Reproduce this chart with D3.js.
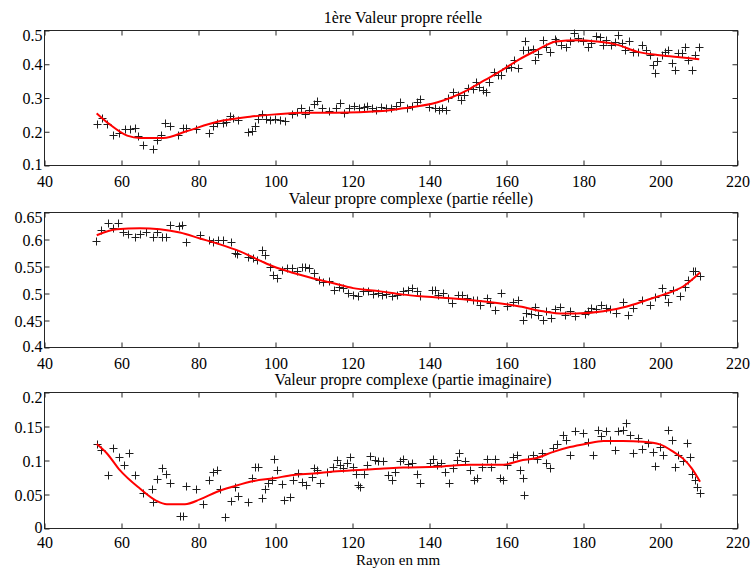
<!DOCTYPE html>
<html><head><meta charset="utf-8">
<script src="https://cdn.jsdelivr.net/npm/d3@7/dist/d3.min.js"></script>
<style>
html,body{margin:0;padding:0;background:#fff;}
</style></head>
<body>
<svg id="chart" width="752" height="568"></svg>
<script>
// ---------- DATA ----------
const xTicks = [40, 60, 80, 100, 120, 140, 160, 180, 200, 220];
const yTicks1 = [0.1, 0.2, 0.3, 0.4, 0.5];
const yTicks2 = [0.4, 0.45, 0.5, 0.55, 0.6, 0.65];
const yTicks3 = [0, 0.05, 0.1, 0.15, 0.2];
const titles = ["1ère Valeur propre réelle", "Valeur propre complexe (partie réelle)", "Valeur propre complexe (partie imaginaire)"];
const xLabel = "Rayon en mm";

// Panel 1 : mesures
const rayon1 = [53.7,55.0,56.3,58.0,59.5,61.0,62.3,63.6,64.3,65.6,68.2,69.4,70.5,71.4,72.7,74.8,76.0,77.0,79.6,82.9,83.9,85.0,86.4,87.4,88.3,89.2,90.5,93.1,94.0,94.8,95.7,96.6,97.7,98.6,99.9,101.2,102.5,104.4,105.6,106.7,107.8,108.9,110.2,111.0,112.2,114.1,115.8,116.8,118.0,119.3,120.5,121.8,123.0,124.0,125.2,126.3,127.5,128.8,130.0,131.3,132.5,134.2,135.5,136.8,137.7,139.9,141.6,142.6,143.5,144.3,144.9,146.2,147.5,148.3,149.2,150.1,151.4,152.2,153.1,154.0,154.9,155.7,156.9,157.9,158.8,160.1,161.4,162.2,163.1,164.5,164.9,165.8,167.1,167.5,168.4,169.5,170.5,171.4,172.7,173.1,174.4,175.7,176.6,177.6,178.8,180.1,181.4,182.2,183.5,184.4,185.3,186.1,187.4,188.3,189.2,190.0,190.9,192.0,193.1,194.4,195.3,196.3,197.4,198.3,198.7,199.3,200.4,201.3,202.2,203.0,203.9,204.8,205.7,206.5,207.4,208.3,209.1,210.2];
const valeur1 = [0.221,0.238,0.221,0.189,0.195,0.207,0.207,0.210,0.185,0.159,0.147,0.174,0.190,0.224,0.216,0.190,0.211,0.211,0.207,0.195,0.215,0.224,0.224,0.226,0.244,0.238,0.234,0.197,0.202,0.215,0.237,0.250,0.235,0.233,0.235,0.232,0.230,0.250,0.256,0.269,0.250,0.264,0.282,0.289,0.269,0.259,0.269,0.284,0.254,0.270,0.275,0.270,0.272,0.275,0.270,0.263,0.272,0.268,0.270,0.275,0.288,0.268,0.275,0.288,0.295,0.273,0.268,0.262,0.270,0.262,0.298,0.317,0.307,0.292,0.307,0.327,0.325,0.347,0.330,0.322,0.317,0.347,0.376,0.366,0.366,0.386,0.391,0.410,0.386,0.441,0.466,0.441,0.443,0.410,0.430,0.470,0.451,0.436,0.472,0.466,0.456,0.451,0.466,0.490,0.475,0.466,0.451,0.461,0.483,0.480,0.456,0.471,0.456,0.465,0.486,0.461,0.441,0.466,0.436,0.436,0.456,0.440,0.426,0.397,0.373,0.407,0.426,0.436,0.441,0.402,0.382,0.431,0.431,0.451,0.410,0.382,0.426,0.451];
// Panel 1 : courbe lissée
const rayonFit1 = [53.7,57,61.6,65,71,77,85,93.5,100,107,115.8,128,133.3,142,150,154.6,159,163,168,173,178.5,183.5,189,194,199.3,204.5,210.2];
const fit1 = [0.253,0.221,0.187,0.180,0.180,0.200,0.228,0.243,0.250,0.255,0.255,0.260,0.268,0.285,0.322,0.352,0.381,0.410,0.440,0.466,0.470,0.466,0.456,0.436,0.426,0.420,0.413];

// Panel 2 : mesures
const rayon2 = [53.5,54.7,56.5,58.0,59.3,60.6,61.9,63.6,64.9,66.5,68.2,69.4,70.6,71.6,72.7,75.1,75.9,77.0,80.5,82.9,84.0,85.3,86.4,88.5,89.6,90.2,93.1,94.4,95.2,96.5,97.4,98.7,99.6,100.4,101.7,103.0,104.3,105.6,106.9,107.8,108.9,110.0,111.3,112.4,113.9,115.2,116.5,117.6,119.0,120.3,121.6,122.9,124.2,125.5,126.8,127.7,128.9,130.3,131.6,133.3,134.6,135.5,136.8,137.7,140.7,141.6,142.4,143.7,145.0,145.9,147.6,148.5,149.8,151.5,152.4,153.2,155.0,155.9,157.1,158.7,160.2,161.9,163.2,164.5,165.3,166.6,167.5,168.3,169.5,170.5,171.8,172.7,174.0,175.3,176.6,177.9,180.5,181.4,182.2,183.5,184.8,186.1,187.0,188.7,190.4,191.8,193.1,195.3,197.4,198.7,200.4,201.3,202.2,203.5,205.2,206.5,207.4,208.5,209.1,210.4];
const valeur2 = [0.597,0.616,0.629,0.620,0.630,0.613,0.610,0.603,0.610,0.613,0.604,0.613,0.604,0.603,0.626,0.624,0.626,0.594,0.608,0.598,0.595,0.598,0.599,0.595,0.575,0.573,0.567,0.564,0.561,0.580,0.570,0.549,0.533,0.527,0.543,0.546,0.546,0.540,0.549,0.548,0.546,0.537,0.525,0.521,0.523,0.506,0.511,0.509,0.500,0.497,0.495,0.503,0.503,0.498,0.500,0.496,0.498,0.495,0.496,0.503,0.506,0.509,0.503,0.494,0.506,0.506,0.497,0.500,0.490,0.481,0.497,0.496,0.490,0.487,0.487,0.478,0.490,0.481,0.469,0.500,0.476,0.484,0.487,0.450,0.463,0.462,0.474,0.460,0.450,0.466,0.454,0.470,0.475,0.460,0.466,0.458,0.462,0.466,0.472,0.471,0.478,0.472,0.470,0.463,0.484,0.460,0.472,0.487,0.478,0.493,0.509,0.497,0.484,0.506,0.495,0.512,0.524,0.540,0.540,0.532];
const rayonFit2 = [53.7,58.9,64.9,70.1,75.3,80.5,85.7,90.9,96.1,99.6,104.8,110,115.2,120.3,127.3,133.3,137.7,146.3,155,163.6,169.7,174.9,178.3,185.3,191.4,196.6,200.9,206,210.4];
const fit2 = [0.607,0.618,0.620,0.618,0.612,0.601,0.590,0.577,0.560,0.549,0.537,0.527,0.518,0.509,0.503,0.497,0.494,0.490,0.484,0.475,0.466,0.462,0.462,0.466,0.475,0.487,0.497,0.512,0.538];

// Panel 3 : mesures
const rayon3 = [53.7,54.8,56.5,58.0,59.5,60.8,62.2,63.6,65.6,68.0,68.2,69.4,70.6,71.6,72.7,75.3,76.0,77.0,79.6,81.4,82.9,84.0,85.0,85.7,87.0,88.5,89.6,90.5,93.1,94.0,94.8,95.5,96.5,97.4,98.3,99.1,99.7,100.6,101.7,102.3,103.9,104.8,106.1,106.9,108.1,109.5,110.2,111.0,111.7,113.4,115.0,116.2,116.9,117.7,118.8,119.5,120.3,121.0,121.6,122.2,123.1,124.0,124.8,126.0,126.8,128.1,129.4,130.3,131.2,132.5,133.3,134.6,135.5,136.8,137.7,140.3,141.0,142.0,143.1,144.2,145.2,146.2,147.4,147.9,149.4,150.7,151.7,152.4,153.7,155.0,156.0,157.1,158.5,159.3,160.2,161.8,162.8,163.7,164.4,164.8,165.8,167.0,168.0,169.3,170.5,171.4,172.3,173.3,174.7,175.6,176.6,177.9,180.1,181.4,182.5,184.0,184.8,185.9,187.0,188.3,189.2,190.4,191.1,192.2,193.1,194.4,195.2,197.0,198.1,198.7,200.0,200.9,202.2,203.0,203.9,204.8,206.1,207.0,207.7,208.3,209.1,209.7,210.4];
const valeur3 = [0.1235,0.114,0.078,0.118,0.104,0.093,0.111,0.078,0.052,0.058,0.038,0.072,0.088,0.079,0.066,0.018,0.017,0.062,0.058,0.036,0.071,0.083,0.085,0.058,0.016,0.040,0.061,0.047,0.038,0.073,0.089,0.089,0.044,0.058,0.066,0.071,0.101,0.086,0.065,0.041,0.045,0.070,0.081,0.068,0.063,0.075,0.088,0.085,0.066,0.083,0.090,0.100,0.093,0.088,0.095,0.104,0.090,0.079,0.063,0.060,0.079,0.093,0.106,0.100,0.099,0.099,0.078,0.071,0.083,0.098,0.101,0.094,0.095,0.080,0.066,0.095,0.102,0.093,0.095,0.083,0.066,0.088,0.100,0.111,0.098,0.086,0.071,0.073,0.089,0.101,0.089,0.101,0.073,0.071,0.093,0.104,0.107,0.085,0.074,0.049,0.102,0.107,0.101,0.110,0.096,0.088,0.117,0.124,0.137,0.129,0.107,0.142,0.139,0.127,0.107,0.144,0.135,0.142,0.129,0.115,0.142,0.144,0.155,0.137,0.111,0.132,0.116,0.125,0.112,0.091,0.119,0.107,0.144,0.129,0.089,0.107,0.098,0.125,0.104,0.080,0.071,0.061,0.051];
const rayonFit3 = [53.7,56.3,59.7,64.9,69.2,71.9,76.6,80.5,84.8,89.2,94.4,99.6,104.8,110,115.2,120.3,127.3,133.3,142,150.7,159.3,163.6,168,172.3,176.6,180.9,185.3,190.4,195.7,200,203.5,206,208.2,210.4];
const fit3 = [0.1235,0.110,0.085,0.058,0.040,0.035,0.035,0.042,0.053,0.061,0.069,0.073,0.078,0.080,0.083,0.085,0.087,0.089,0.090,0.093,0.093,0.099,0.103,0.112,0.119,0.124,0.128,0.128,0.127,0.123,0.112,0.102,0.088,0.068];

// ---------- DRAW ----------
const FONT = "'Liberation Serif', 'Times New Roman', Times, 'DejaVu Serif', serif";
const FS = 16;
const svg = d3.select("#chart").attr("font-family", FONT);
const left = 44, right = 737;
const panels = [
  {top: 30, bottom: 165, domain: [0.1, 0.5], ticks: yTicks1, fmt: d => d3.format(".1f")(d), xs: rayon1, ys: valeur1, fx: rayonFit1, fy: fit1, title: titles[0], tx: 403, ty: 23, lab: 21.5},
  {top: 212, bottom: 347, domain: [0.4, 0.65], ticks: yTicks2, fmt: d => String(+d.toFixed(2)), xs: rayon2, ys: valeur2, fx: rayonFit2, fy: fit2, title: titles[1], tx: 411, ty: 204, lab: 21.5},
  {top: 392, bottom: 528, domain: [0, 0.2], ticks: yTicks3, fmt: d => String(+d.toFixed(2)), xs: rayon3, ys: valeur3, fx: rayonFit3, fy: fit3, title: titles[2], tx: 413, ty: 385, lab: 19.5}
];
const x = d3.scaleLinear().domain([40, 220]).range([left, right]);
const tickLen = 5;
const axisColor = "#262626";

panels.forEach((p, i) => {
  const y = d3.scaleLinear().domain(p.domain).range([p.bottom, p.top]);
  const g = svg.append("g");

  g.append("rect").attr("x", left + 0.5).attr("y", p.top + 0.5)
    .attr("width", right - left).attr("height", p.bottom - p.top)
    .attr("fill", "none").attr("stroke", axisColor).attr("stroke-width", 1);

  const xb = g.append("g").attr("transform", `translate(0.5,${p.bottom + 0.5})`)
    .call(d3.axisBottom(x).tickValues(xTicks).tickSize(-tickLen).tickPadding(0).tickFormat(d3.format("d")));
  const xt = g.append("g").attr("transform", `translate(0.5,${p.top + 0.5})`)
    .call(d3.axisTop(x).tickValues(xTicks).tickSize(-tickLen).tickFormat(""));
  const yl = g.append("g").attr("transform", `translate(${left + 0.5},0.5)`)
    .call(d3.axisLeft(y).tickValues(p.ticks).tickSize(-tickLen).tickPadding(0).tickFormat(p.fmt));
  const yr = g.append("g").attr("transform", `translate(${right + 0.5},0.5)`)
    .call(d3.axisRight(y).tickValues(p.ticks).tickSize(-tickLen).tickFormat(""));
  [xb, xt, yl, yr].forEach(a => {
    a.attr("font-family", FONT).attr("font-size", FS);
    a.select(".domain").remove();
    a.selectAll(".tick line").attr("stroke", axisColor);
    a.selectAll("text").attr("fill", "#000");
  });
  xb.selectAll(".tick text").attr("y", 0).attr("dy", 0).attr("transform", `translate(0,${p.lab})`);
  yl.selectAll(".tick text").attr("x", -2).attr("dy", "0.35em")
    .attr("transform", d => d === p.domain[1] ? "translate(0,4)" : (d === p.domain[0] ? "translate(0,-2)" : null));

  const pts = p.xs.map((v, k) => [v, p.ys[k]]);
  g.append("g").selectAll("path").data(pts).join("path")
    .attr("d", d => {
      const cx = Math.round(x(d[0])) + 0.5, cy = Math.round(y(d[1])) + 0.5;
      return `M${cx - 4},${cy}H${cx + 4}M${cx},${cy - 4}V${cy + 4}`;
    })
    .attr("stroke", "#1e1e1e").attr("stroke-width", 1).attr("fill", "none");

  const fitPts = p.fx.map((v, k) => [v, p.fy[k]]);
  g.append("path").datum(fitPts)
    .attr("d", d3.line().x(d => x(d[0])).y(d => y(d[1])).curve(d3.curveMonotoneX))
    .attr("fill", "none").attr("stroke", "#ff0000").attr("stroke-width", 2);

  svg.append("text").attr("x", p.tx).attr("y", p.ty).attr("text-anchor", "middle")
    .attr("font-size", FS).attr("font-family", FONT).text(p.title);
});

svg.append("text").attr("x", 398).attr("y", 564.8).attr("text-anchor", "middle")
  .attr("font-size", 15).attr("font-family", FONT).text(xLabel);
</script>
</body></html>
